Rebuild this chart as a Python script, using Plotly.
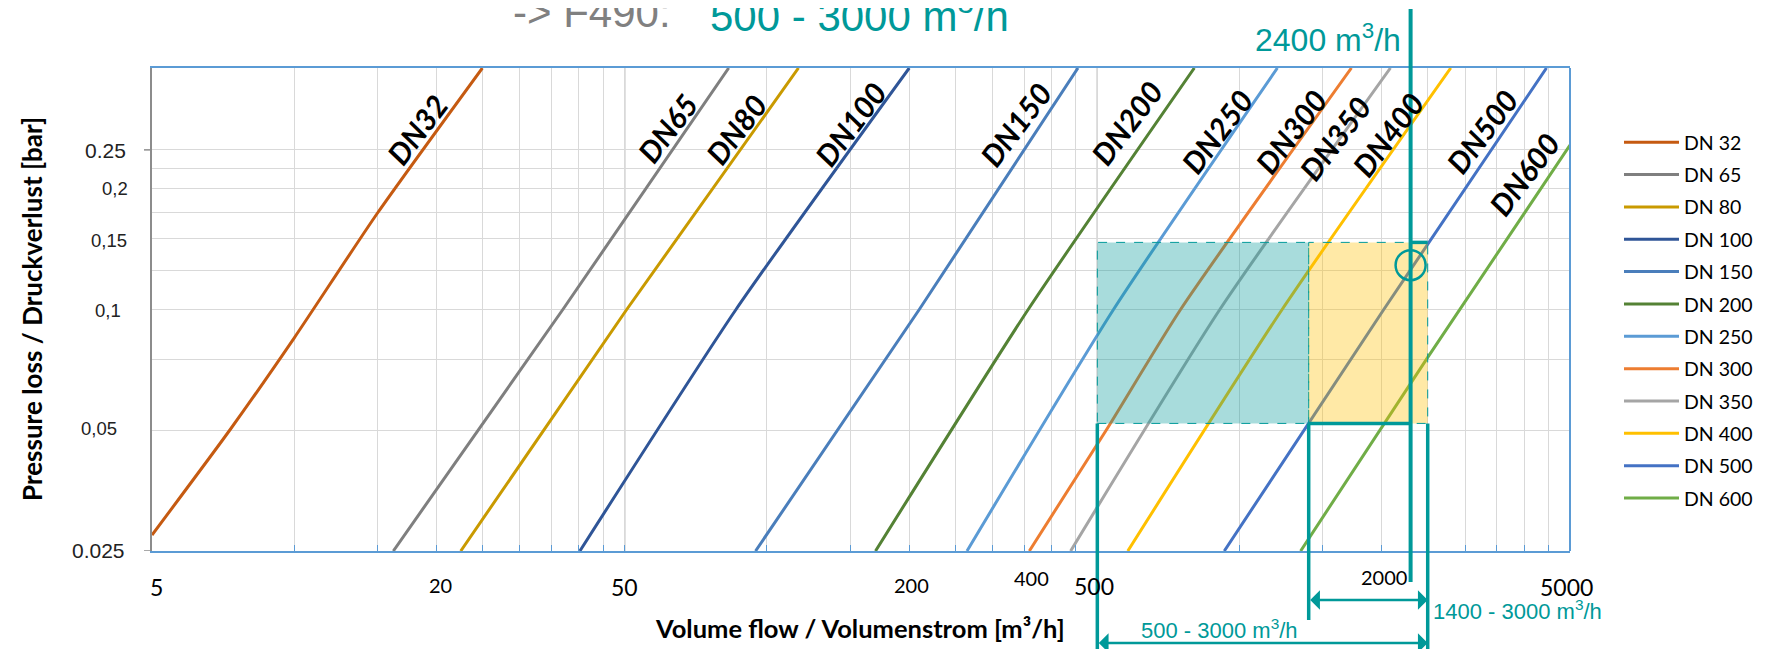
import math
import plotly.graph_objects as go

# ---------------- data ----------------
NAMES = ["DN 32", "DN 65", "DN 80", "DN 100", "DN 150", "DN 200",
         "DN 250", "DN 300", "DN 350", "DN 400", "DN 500", "DN 600"]
LINE_LABELS = ["DN32", "DN65", "DN80", "DN100", "DN150", "DN200",
               "DN250", "DN300", "DN350", "DN400", "DN500", "DN600"]
COLORS = ["#C55A11", "#7F7F7F", "#C99A00", "#2F5597", "#4A7EBB", "#548235",
          "#5B9BD5", "#ED7D31", "#A5A5A5", "#FFC000", "#4472C4", "#70AD47"]

# volume flow [m3/h] and pressure loss [bar] per nominal size
FLOW_DN32 = [5, 7.3, 10, 15, 25]
DP_DN32 = [0.0274, 0.05, 0.085, 0.174, 0.40]
FLOW_DN65 = [16.2, 37, 83]
DP_DN65 = [0.025, 0.1, 0.4]
FLOW_DN80 = [22.5, 50.5, 116.6]
DP_DN80 = [0.025, 0.1, 0.4]
FLOW_DN100 = [40.2, 86, 200]
DP_DN100 = [0.025, 0.1, 0.4]
FLOW_DN150 = [94.6, 210, 455]
DP_DN150 = [0.025, 0.1, 0.4]
FLOW_DN200 = [169.7, 357, 802]
DP_DN200 = [0.025, 0.1, 0.4]
FLOW_DN250 = [265, 541, 1202]
DP_DN250 = [0.025, 0.1, 0.4]
FLOW_DN300 = [359, 522, 750, 1724]
DP_DN300 = [0.025, 0.05, 0.1, 0.4]
FLOW_DN350 = [439, 908, 2085]
DP_DN350 = [0.025, 0.1, 0.4]
FLOW_DN400 = [580, 1230, 2797]
DP_DN400 = [0.025, 0.1, 0.4]
FLOW_DN500 = [928, 2018, 4459]
DP_DN500 = [0.025, 0.1, 0.4]
FLOW_DN600 = [1346, 2500, 5000]
DP_DN600 = [0.025, 0.076, 0.257]

FLOWS = [FLOW_DN32, FLOW_DN65, FLOW_DN80, FLOW_DN100, FLOW_DN150, FLOW_DN200,
         FLOW_DN250, FLOW_DN300, FLOW_DN350, FLOW_DN400, FLOW_DN500, FLOW_DN600]
DPS = [DP_DN32, DP_DN65, DP_DN80, DP_DN100, DP_DN150, DP_DN200,
       DP_DN250, DP_DN300, DP_DN350, DP_DN400, DP_DN500, DP_DN600]

# in-chart labels along each curve (flow, pressure)
LABEL_FLOW = [18.2, 61.5, 86, 150, 336, 575, 895, 1284, 1590, 2059, 3255, 3994]
LABEL_DP = [0.282, 0.284, 0.282, 0.290, 0.290, 0.292, 0.279, 0.279, 0.268, 0.274, 0.279, 0.218]

# grid values
X_GRID = [5, 10, 15, 20, 25, 30, 35, 40, 45, 50, 100, 150, 200, 250, 300, 350, 400, 450,
          500, 1000, 1500, 2000, 2500, 3000, 3500, 4000, 4500, 5000]
X_MAJOR = [50, 500]
Y_GRID = [0.025, 0.05, 0.075, 0.1, 0.125, 0.15, 0.175, 0.2, 0.225, 0.25]
X_RANGE = [5, 5000]
Y_RANGE = [0.025, 0.4]

# tick labels
X_TICK_TEXT = ["5", "20", "50", "200", "400", "500", "2000", "5000"]
X_TICK_POS = [5, 20, 50, 200, 400, 500, 2000, 5000]
X_TICK_SHIFT = [4, 4, 0, 2, -20, -3, 2, -4]
X_TICK_BIG = [True, False, True, False, False, True, False, True]
X_TICK_YPX = [587, 585, 587, 585, 578, 586, 577, 587]
Y_TICK_TEXT = ["0.25", "0,2", "0,15", "0,1", "0,05", "0.025"]
Y_TICK_YPX = [151, 188, 240, 310, 428, 550]
Y_TICK_RIGHT = [128, 130, 129, 123, 119, 127]
Y_TICK_SIZE = [21, 18.5, 18.5, 18.5, 18.5, 21]

# operating ranges (as drawn)
TEAL_FLOW = [500, 1400]
YELLOW_FLOW = [1400, 2500]
BOX_DP = [0.052, 0.147]
POINT_FLOW = 2300
POINT_DP = 0.129

# ---------------- geometry helpers ----------------
# the page adds an 8px body margin, so the figure is 8px smaller and
# every position below is given in page (reference) pixels.
OFF = 8
W, H = 1774 - OFF, 649 - OFF
ML, MR, MT, MB = 152 - OFF, 204, 68 - OFF, 98
PW, PH = W - ML - MR, H - MT - MB
TEAL = "#009999"
CAL = "Lato, 'Open Sans', sans-serif"
ARIAL = "'Liberation Sans', Arial, sans-serif"


def pxx(x):
    return (x - OFF - ML) / PW


def pxy(y):
    return (H - MB - (y - OFF)) / PH


def lx(v):
    return (math.log10(v) - math.log10(X_RANGE[0])) / (math.log10(X_RANGE[1]) - math.log10(X_RANGE[0]))


def ly(v):
    return (math.log10(v) - math.log10(Y_RANGE[0])) / (math.log10(Y_RANGE[1]) - math.log10(Y_RANGE[0]))


fig = go.Figure()
for name, fl, dp, col in zip(NAMES, FLOWS, DPS, COLORS):
    fig.add_trace(go.Scatter(x=fl, y=dp, mode="lines", name=name, legendgroup=name,
                             line=dict(color=col, width=3, shape="spline", smoothing=0.6),
                             hoverinfo="x+y+name"))

shapes = []
for xv in X_MAJOR:
    shapes.append(dict(type="line", xref="x", yref="paper", x0=xv, x1=xv, y0=0, y1=1,
                       line=dict(color="#A0A0A0", width=1.3), layer="between"))
shapes.append(dict(type="line", xref="paper", yref="paper", x0=1, x1=1, y0=0, y1=1,
                   line=dict(color="#5B9BD5", width=2)))
for yv in [0.25, 0.025]:
    shapes.append(dict(type="line", xref="paper", yref="y", x0=-8 / PW, x1=0, y0=yv, y1=yv,
                       line=dict(color="#8C8C8C", width=1.5)))
shapes.append(dict(type="rect", xref="x", yref="y", x0=TEAL_FLOW[0], x1=TEAL_FLOW[1],
                   y0=BOX_DP[0], y1=BOX_DP[1], fillcolor="rgba(0,153,153,0.34)",
                   line=dict(color=TEAL, width=1, dash="dash"), layer="above"))
shapes.append(dict(type="rect", xref="x", yref="y", x0=YELLOW_FLOW[0], x1=YELLOW_FLOW[1],
                   y0=BOX_DP[0], y1=BOX_DP[1], fillcolor="rgba(255,192,0,0.35)",
                   line=dict(color=TEAL, width=1, dash="dash"), layer="above"))
lw = 3.5
shapes.append(dict(type="line", xref="x", yref="paper", x0=TEAL_FLOW[0], x1=TEAL_FLOW[0],
                   y0=ly(BOX_DP[0]), y1=pxy(649), line=dict(color=TEAL, width=lw)))
shapes.append(dict(type="line", xref="x", yref="paper", x0=YELLOW_FLOW[0], x1=YELLOW_FLOW[0],
                   y0=ly(BOX_DP[0]), y1=pxy(620), line=dict(color=TEAL, width=lw)))
shapes.append(dict(type="line", xref="x", yref="paper", x0=YELLOW_FLOW[1], x1=YELLOW_FLOW[1],
                   y0=ly(BOX_DP[0]), y1=pxy(649), line=dict(color=TEAL, width=lw)))
shapes.append(dict(type="line", xref="x", yref="paper", x0=POINT_FLOW, x1=POINT_FLOW,
                   y0=pxy(9), y1=pxy(582), line=dict(color=TEAL, width=4)))
shapes.append(dict(type="line", xref="x", yref="y", x0=YELLOW_FLOW[0], x1=POINT_FLOW,
                   y0=BOX_DP[0], y1=BOX_DP[0], line=dict(color=TEAL, width=lw)))
shapes.append(dict(type="line", xref="x", yref="y", x0=POINT_FLOW, x1=YELLOW_FLOW[1],
                   y0=BOX_DP[1], y1=BOX_DP[1], line=dict(color=TEAL, width=lw)))
cx, cy, r = lx(POINT_FLOW), ly(POINT_DP), 15
shapes.append(dict(type="circle", xref="paper", yref="paper",
                   x0=cx - r / PW, x1=cx + r / PW, y0=cy - r / PH, y1=cy + r / PH,
                   line=dict(color=TEAL, width=2.5)))

ann = []
for t, fx, fy in zip(LINE_LABELS, LABEL_FLOW, LABEL_DP):
    ann.append(dict(text="<b><i>" + t + "</i></b>", xref="x", yref="y",
                    x=math.log10(fx), y=math.log10(fy), showarrow=False, textangle=-53,
                    font=dict(family=CAL, size=30, color="black")))
for t, xv, sh, big, ypx in zip(X_TICK_TEXT, X_TICK_POS, X_TICK_SHIFT, X_TICK_BIG, X_TICK_YPX):
    ann.append(dict(text=t, xref="x", yref="paper", x=math.log10(xv), y=pxy(ypx), xshift=sh,
                    showarrow=False, xanchor="center", yanchor="middle",
                    font=dict(family=CAL, size=23 if big else 20, color="black")))
for t, ypx, xr, sz in zip(Y_TICK_TEXT, Y_TICK_YPX, Y_TICK_RIGHT, Y_TICK_SIZE):
    ann.append(dict(text=t, xref="paper", yref="paper", x=pxx(xr), y=pxy(ypx), showarrow=False,
                    xanchor="right", yanchor="middle",
                    font=dict(family=ARIAL, size=sz, color="#222222")))
ann.append(dict(text="<b>Volume flow / Volumenstrom [m³/h]</b>", xref="paper", yref="paper",
                x=pxx(860), y=pxy(628), showarrow=False, xanchor="center", yanchor="middle",
                font=dict(family=CAL, size=25.5, color="black")))
ann.append(dict(text="<b>Pressure loss / Druckverlust [bar]</b>", xref="paper", yref="paper",
                x=pxx(32), y=pxy(309), showarrow=False, textangle=-90, xanchor="center",
                yanchor="middle", font=dict(family=CAL, size=26, color="black")))
ann.append(dict(text="-&gt; F490:", xref="paper", yref="paper", x=pxx(511), y=pxy(13),
                showarrow=False, xanchor="left", yanchor="middle",
                font=dict(family=ARIAL, size=42, color="#808080")))
ann.append(dict(text="500 - 3000 m<sup>3</sup>/h", xref="paper", yref="paper", x=pxx(708),
                y=pxy(13), showarrow=False, xanchor="left", yanchor="middle",
                font=dict(family=ARIAL, size=42, color=TEAL)))
ann.append(dict(text="2400 m<sup>3</sup>/h", xref="paper", yref="paper", x=pxx(1403),
                y=pxy(37.6), showarrow=False, xanchor="right", yanchor="middle",
                font=dict(family=ARIAL, size=32, color=TEAL)))
for (a, b), ypx in [((YELLOW_FLOW[0], YELLOW_FLOW[1]), 600), ((TEAL_FLOW[0], YELLOW_FLOW[1]), 643)]:
    ann.append(dict(text="", xref="x", yref="paper", x=math.log10(b), y=pxy(ypx),
                    axref="x", ax=math.log10(a), ayref="pixel", ay=0, showarrow=True,
                    arrowhead=1, startarrowhead=1, arrowside="end+start", arrowsize=1.3,
                    startarrowsize=1.3, arrowwidth=2.5, arrowcolor=TEAL, standoff=0,
                    startstandoff=0))
ann.append(dict(text="1400 - 3000 m<sup>3</sup>/h", xref="paper", yref="paper", x=pxx(1431),
                y=pxy(610), showarrow=False, xanchor="left", yanchor="middle",
                font=dict(family=ARIAL, size=22, color=TEAL)))
ann.append(dict(text="500 - 3000 m<sup>3</sup>/h", xref="paper", yref="paper", x=pxx(1219),
                y=pxy(629), showarrow=False, xanchor="center", yanchor="middle",
                font=dict(family=ARIAL, size=22, color=TEAL)))

fig.update_layout(
    width=W, height=H, margin=dict(l=ML, r=MR, t=MT, b=MB, autoexpand=False),
    paper_bgcolor="white", plot_bgcolor="white",
    xaxis=dict(type="log", range=[math.log10(X_RANGE[0]), math.log10(X_RANGE[1])],
               tickvals=X_GRID, showticklabels=False, showgrid=True, gridcolor="#D9D9D9",
               gridwidth=1.3, ticks="inside", ticklen=6, tickcolor="#5B9BD5", tickwidth=1,
               showline=True, linecolor="#5B9BD5", linewidth=2, mirror=True, zeroline=False),
    yaxis=dict(type="log", range=[math.log10(Y_RANGE[0]), math.log10(Y_RANGE[1])],
               tickvals=Y_GRID, showticklabels=False, showgrid=True, gridcolor="#D9D9D9",
               gridwidth=1.3, ticks="", showline=True, linecolor="#8C8C8C", linewidth=2,
               zeroline=False),
    showlegend=True,
    legend=dict(x=pxx(1619), y=pxy(123), xanchor="left", yanchor="top",
                font=dict(family=CAL, size=19.5, color="black"), tracegroupgap=4,
                traceorder="grouped", bgcolor="rgba(0,0,0,0)", itemwidth=55),
    shapes=shapes, annotations=ann,
)

fig.write_html("out.html")
